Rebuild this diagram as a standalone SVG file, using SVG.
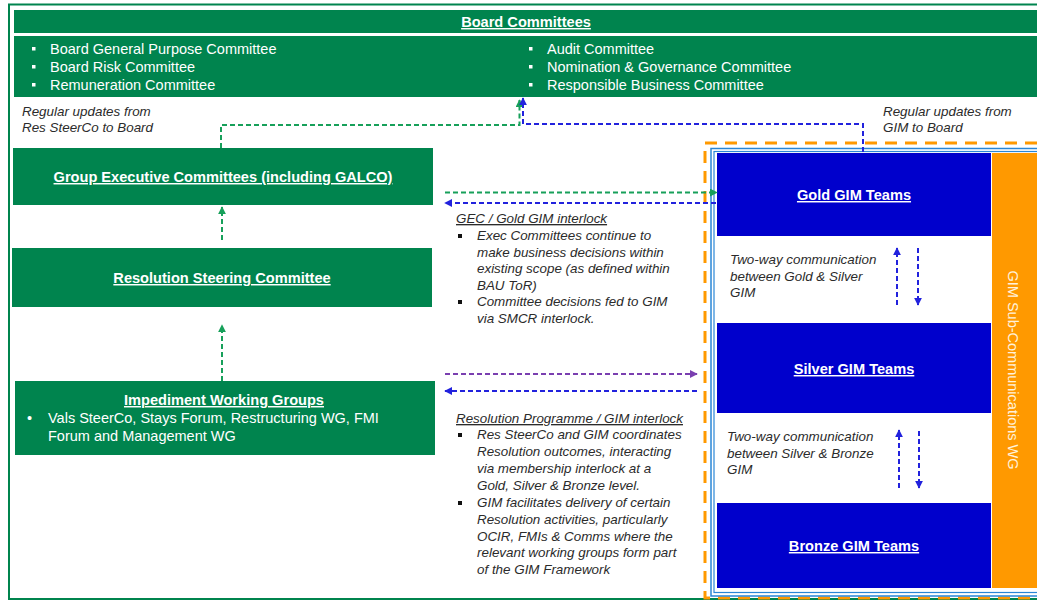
<svg xmlns="http://www.w3.org/2000/svg" width="1037" height="601" viewBox="0 0 1037 601">
<style>
.gbox{fill:#00844E;}
.bbox{fill:#0000CC;}
.title{font-family:"Liberation Sans",Arial,sans-serif;font-size:14.6px;font-weight:bold;fill:#FFFFFF;text-decoration:underline;}
.list{font-family:"Liberation Sans",Arial,sans-serif;font-size:14.5px;fill:#FFFFFF;}
.note{font-family:"Liberation Sans",Arial,sans-serif;font-size:13.4px;font-style:italic;fill:#2B2B2B;}
.noteh{font-family:"Liberation Sans",Arial,sans-serif;font-size:13.4px;font-style:italic;fill:#2B2B2B;text-decoration:underline;}
.vert{font-family:"Liberation Sans",Arial,sans-serif;font-size:14.5px;fill:#FFF2DC;}
.dg{fill:none;stroke:#17A05A;stroke-width:2;stroke-dasharray:5 3;}
.db{fill:none;stroke:#2222DD;stroke-width:2;stroke-dasharray:5 3;}
.dp{fill:none;stroke:#7A3FB0;stroke-width:2;stroke-dasharray:5 3;}
</style>
<defs>
<marker id="ag" viewBox="0 0 10 10" refX="9" refY="5" markerWidth="8" markerHeight="8" orient="auto" markerUnits="userSpaceOnUse"><path d="M0,0 L10,5 L0,10 z" fill="#17A05A"/></marker>
<marker id="ab" viewBox="0 0 10 10" refX="9" refY="5" markerWidth="8" markerHeight="8" orient="auto" markerUnits="userSpaceOnUse"><path d="M0,0 L10,5 L0,10 z" fill="#2222DD"/></marker>
<marker id="ap" viewBox="0 0 10 10" refX="9" refY="5" markerWidth="8" markerHeight="8" orient="auto" markerUnits="userSpaceOnUse"><path d="M0,0 L10,5 L0,10 z" fill="#7A3FB0"/></marker>
</defs>
<rect width="1037" height="601" fill="#FFFFFF"/>
<!-- outer frame -->
<rect x="9" y="4.5" width="1040" height="594.5" fill="none" stroke="#00844E" stroke-width="2"/>

<g id="board-committees">
<rect class="gbox" x="14" y="10" width="1030" height="23"/>
<text class="title" x="526" y="27" text-anchor="middle">Board Committees</text>
<rect class="gbox" x="14" y="36" width="1030" height="61"/>
<rect x="32" y="47" width="3.5" height="3.5" fill="#FFFFFF"/>
<rect x="32" y="65" width="3.5" height="3.5" fill="#FFFFFF"/>
<rect x="32" y="83" width="3.5" height="3.5" fill="#FFFFFF"/>
<text class="list" x="50" y="54">Board General Purpose Committee</text>
<text class="list" x="50" y="72">Board Risk Committee</text>
<text class="list" x="50" y="90">Remuneration Committee</text>
<rect x="529" y="47" width="3.5" height="3.5" fill="#FFFFFF"/>
<rect x="529" y="65" width="3.5" height="3.5" fill="#FFFFFF"/>
<rect x="529" y="83" width="3.5" height="3.5" fill="#FFFFFF"/>
<text class="list" x="547" y="54">Audit Committee</text>
<text class="list" x="547" y="72">Nomination &amp; Governance Committee</text>
<text class="list" x="547" y="90">Responsible Business Committee</text>
</g>

<g id="label-resco-board">
<text class="note" x="22" y="116">Regular updates from</text>
<text class="note" x="22" y="132">Res SteerCo to Board</text>
</g>
<g id="label-gim-board">
<text class="note" x="883" y="116">Regular updates from</text>
<text class="note" x="883" y="132">GIM to Board</text>
</g>

<g id="group-exec">
<rect class="gbox" x="13" y="148" width="420" height="57"/>
<text class="title" x="223" y="182" text-anchor="middle">Group Executive Committees (including GALCO)</text>
</g>

<g id="res-steerco">
<rect class="gbox" x="12" y="248" width="420" height="59"/>
<text class="title" x="222" y="283" text-anchor="middle">Resolution Steering Committee</text>
</g>

<g id="impediment-wg">
<rect class="gbox" x="15" y="381" width="420" height="74"/>
<text class="title" x="224" y="405" text-anchor="middle">Impediment Working Groups</text>
<text class="list" x="27" y="423">•</text>
<text class="list" x="48" y="423">Vals SteerCo, Stays Forum, Restructuring WG, FMI</text>
<text class="list" x="48" y="441">Forum and Management WG</text>
</g>

<g id="gec-gold-note">
<text class="noteh" x="456" y="223">GEC / Gold GIM interlock</text>
<rect x="458" y="234" width="4" height="4" fill="#111111"/>
<text class="note" x="477" y="240">Exec Committees continue to</text>
<text class="note" x="477" y="256.5">make business decisions within</text>
<text class="note" x="477" y="273">existing scope (as defined within</text>
<text class="note" x="477" y="289.5">BAU ToR)</text>
<rect x="458" y="300" width="4" height="4" fill="#111111"/>
<text class="note" x="477" y="306">Committee decisions fed to GIM</text>
<text class="note" x="477" y="322.5">via SMCR interlock.</text>
</g>

<g id="resprog-gim-note">
<text class="noteh" x="456" y="423">Resolution Programme / GIM interlock</text>
<rect x="458" y="433" width="4" height="4" fill="#111111"/>
<text class="note" x="477" y="439">Res SteerCo and GIM coordinates</text>
<text class="note" x="477" y="456">Resolution outcomes, interacting</text>
<text class="note" x="477" y="473">via membership interlock at a</text>
<text class="note" x="477" y="490">Gold, Silver &amp; Bronze level.</text>
<rect x="458" y="501" width="4" height="4" fill="#111111"/>
<text class="note" x="477" y="507">GIM facilitates delivery of certain</text>
<text class="note" x="477" y="524">Resolution activities, particularly</text>
<text class="note" x="477" y="540.5">OCIR, FMIs &amp; Comms where the</text>
<text class="note" x="477" y="557">relevant working groups form part</text>
<text class="note" x="477" y="574">of the GIM Framework</text>
</g>

<g id="gim-framework">
<rect x="705" y="143" width="345" height="455" fill="none" stroke="#FF9900" stroke-width="3" stroke-dasharray="12 8"/>
<rect x="711" y="148.5" width="340" height="447.5" fill="none" stroke="#2A86D6" stroke-width="1.5"/>
<rect x="714" y="151.5" width="340" height="441" fill="none" stroke="#2A86D6" stroke-width="1.2"/>
</g>

<g id="gold-gim">
<rect class="bbox" x="717" y="153" width="274" height="83"/>
<text class="title" x="854" y="200" text-anchor="middle">Gold GIM Teams</text>
</g>
<g id="silver-gim">
<rect class="bbox" x="717" y="323" width="274" height="90"/>
<text class="title" x="854" y="374" text-anchor="middle">Silver GIM Teams</text>
</g>
<g id="bronze-gim">
<rect class="bbox" x="717" y="503" width="274" height="85"/>
<text class="title" x="854" y="551" text-anchor="middle">Bronze GIM Teams</text>
</g>

<g id="gim-subcomms-wg">
<rect x="992" y="153" width="60" height="435" fill="#FF9900"/>
<text class="vert" transform="translate(1013,370) rotate(90)" x="0" y="5" text-anchor="middle">GIM Sub-Communications  WG</text>
</g>

<g id="label-gold-silver">
<text class="note" x="730" y="264">Two-way communication</text>
<text class="note" x="730" y="280.5">between Gold &amp; Silver</text>
<text class="note" x="730" y="297">GIM</text>
</g>
<g id="label-silver-bronze">
<text class="note" x="727" y="441">Two-way communication</text>
<text class="note" x="727" y="457.5">between Silver &amp; Bronze</text>
<text class="note" x="727" y="474">GIM</text>
</g>

<g id="connectors">
<path class="dg" d="M221,148 V125 H519.5 V100" marker-end="url(#ag)"/>
<path class="db" d="M863,152 V124 H523 V98" marker-end="url(#ab)"/>
<path class="dg" d="M222,240 V207" marker-end="url(#ag)"/>
<path class="dg" d="M222,381 V325" marker-end="url(#ag)"/>
<path class="dg" d="M445,192.5 H717" marker-end="url(#ag)"/>
<path class="db" d="M716,203 H445" marker-end="url(#ab)"/>
<path class="dp" d="M445,374 H697" marker-end="url(#ap)"/>
<path class="db" d="M697,391 H445" marker-end="url(#ab)"/>
<path class="db" d="M897,305 V248" marker-end="url(#ab)"/>
<path class="db" d="M918,248 V305" marker-end="url(#ab)"/>
<path class="db" d="M899,488 V430" marker-end="url(#ab)"/>
<path class="db" d="M919,431 V488" marker-end="url(#ab)"/>
</g>
</svg>
